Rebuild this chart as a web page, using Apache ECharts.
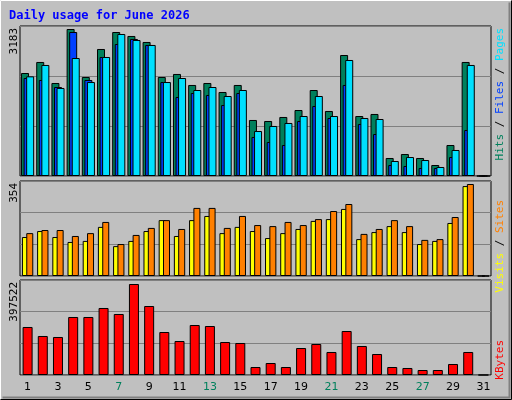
<!DOCTYPE html>
<html><head><meta charset="utf-8">
<script src="https://cdn.jsdelivr.net/npm/echarts@6/dist/echarts.min.js"></script>
<style>html,body{margin:0;padding:0;background:#c0c0c0}#c{width:512px;height:400px}</style>
</head><body><div id="c"></div>
<script>
const days = ['1','2','3','4','5','6','7','8','9','10','11','12','13','14','15','16','17','18','19','20','21','22','23','24','25','26','27','28','29','30','31'];
const weekendDays = ['6','7','13','14','20','21','27','28'];
const hits = [2230,2469,2014,3183,2144,2750,3118,3032,2902,2144,2209,1971,2014,1819,1971,1213,1191,1278,1429,1862,1408,2620,1299,1343,390,476,390,238,671,2469,0];
const files = [2122,2079,1927,3118,2079,2577,2858,2967,2837,2035,1711,1797,1754,1537,1797,845,736,671,1191,1516,1256,1971,1126,909,238,217,173,173,411,996,0];
const pages = [2158,2404,1906,2555,2035,2577,3075,2945,2837,2035,2122,1862,1927,1732,1862,974,1083,1148,1299,1732,1299,2512,1256,1234,325,411,346,195,563,2404,0];
const visits = [150,173,150,131,135,189,115,135,173,215,154,215,231,165,189,173,146,165,181,212,219,258,142,169,192,169,123,135,204,346,0];
const sites = [165,177,177,154,165,208,123,158,185,215,181,262,262,185,231,196,192,208,196,219,250,277,162,181,215,192,139,142,227,354,0];
const kbytes = [209700,170400,166000,253400,253400,292700,266500,397522,301400,187800,148500,218400,214000,144100,139800,34900,52400,34900,117900,135400,100500,192200,126700,91700,34900,30600,21800,21800,48000,100500,0];
const maxLabels = ['3183','354','397522'];

const tops = [Math.max(...hits), Math.max(...sites), Math.max(...kbytes)];
const axisMax = [tops[0]*150/147, tops[1]*95/92, tops[2]*95/91];
const grids = [
  {left:20,width:471,top:26,height:150},
  {left:20,width:471,top:181,height:95},
  {left:20,width:471,top:280,height:95}
];
const gridStyle = {show:true,borderColor:'#000',borderWidth:1,backgroundColor:'#c0c0c0'};
const xAxes = grids.map((g,i)=>({type:'category',gridIndex:i,data:days,
  axisLine:{show:false},axisTick:{show:false},
  axisLabel:{show:i===2,margin:7,fontFamily:'DejaVu Sans',fontSize:11,
    color:(v)=>weekendDays.includes(v)?'#00805c':'#000'}}));
const yAxes = grids.map((g,i)=>({type:'value',gridIndex:i,min:0,max:axisMax[i],interval:axisMax[i]/3,
  axisLabel:{show:false},axisLine:{show:false},axisTick:{show:false},
  splitLine:{lineStyle:{color:'#808080',width:1}}}));
const bs = (c)=>({color:c,borderColor:'#000',borderWidth:1});
const series = [
  {type:'bar',name:'Hits',data:hits,xAxisIndex:0,yAxisIndex:0,barWidth:8,barGap:'-68%',itemStyle:bs('#00805c')},
  {type:'bar',name:'Files',data:files,xAxisIndex:0,yAxisIndex:0,barWidth:8,barGap:'-68%',itemStyle:bs('#0040ff')},
  {type:'bar',name:'Pages',data:pages,xAxisIndex:0,yAxisIndex:0,barWidth:8,barGap:'-68%',itemStyle:bs('#00e0ff')},
  {type:'bar',name:'Visits',data:visits,xAxisIndex:1,yAxisIndex:1,barWidth:7,barGap:'-38%',itemStyle:bs('#ffff00')},
  {type:'bar',name:'Sites',data:sites,xAxisIndex:1,yAxisIndex:1,barWidth:7,barGap:'-38%',itemStyle:bs('#ff8000')},
  {type:'bar',name:'KBytes',data:kbytes,xAxisIndex:2,yAxisIndex:2,barWidth:10,itemStyle:bs('#ff0000')}
];
const vt = (x,y,text,rich)=>({type:'text',x:x,y:y,rotation:Math.PI/2,
  style:{text:text,rich:rich,font:'11px "DejaVu Sans Mono"',fill:'#000',align:'right',verticalAlign:'middle'}});
const graphic = [
  {type:'polyline',shape:{points:[[0.5,399.5],[0.5,0.5],[511.5,0.5]]},style:{stroke:'#fff',lineWidth:1,fill:null}},
  {type:'polyline',shape:{points:[[511.5,0.5],[511.5,399.5],[0.5,399.5]]},style:{stroke:'#000',lineWidth:1,fill:null}},
  {type:'polyline',shape:{points:[[2.5,397.5],[509.5,397.5],[509.5,2.5]]},style:{stroke:'#808080',lineWidth:2,fill:null}},
  vt(14,28,maxLabels[0]),
  vt(14,183,maxLabels[1]),
  vt(14,282,maxLabels[2]),
  vt(500,28,'{h|Hits}{s| / }{f|Files}{s| / }{p|Pages}',{
    h:{fill:'#00805c',font:'11px "DejaVu Sans Mono"'},f:{fill:'#0040ff',font:'11px "DejaVu Sans Mono"'},
    p:{fill:'#00e0ff',font:'11px "DejaVu Sans Mono"'},s:{fill:'#000',font:'11px "DejaVu Sans Mono"'}}),
  vt(500,200,'{v|Visits}{s| / }{t|Sites}',{
    v:{fill:'#ffff00',font:'11px "DejaVu Sans Mono"'},t:{fill:'#ff8000',font:'11px "DejaVu Sans Mono"'},s:{fill:'#000',font:'11px "DejaVu Sans Mono"'}}),
  vt(500,340,'{k|KBytes}',{k:{fill:'#ff0000',font:'11px "DejaVu Sans Mono"'}})
];
const chart = echarts.init(document.getElementById('c'));
chart.setOption({
  backgroundColor:'#c0c0c0',animation:false,
  title:{text:'Daily usage for June 2026',left:4,top:5,textStyle:{color:'#0000ff',fontFamily:'DejaVu Sans Mono',fontWeight:'bold',fontSize:12}},
  grid:grids.map(g=>Object.assign({},g,gridStyle)),
  xAxis:xAxes,yAxis:yAxes,series:series,graphic:graphic
});
</script></body></html>
